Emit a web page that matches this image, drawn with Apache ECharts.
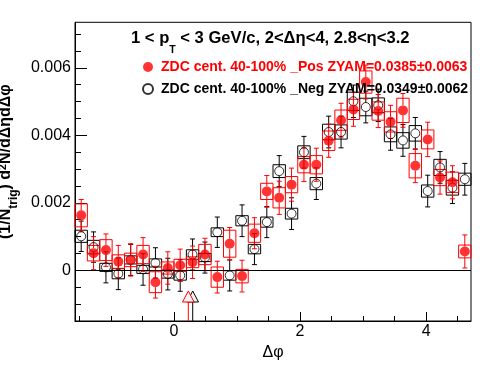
<!DOCTYPE html>
<html><head><meta charset="utf-8">
<script src="https://cdn.jsdelivr.net/npm/echarts@6/dist/echarts.min.js"></script>
<style>html,body{margin:0;padding:0;background:#fff}#c{width:496px;height:374px}</style>
</head><body><div id="c"></div><script>
// Δφ bin centres (32 bins over [-π/2, 3π/2])
const binCenters = [-1.4726,-1.2763,-1.0799,-0.8836,-0.6872,-0.4909,-0.2945,-0.0982,
  0.0982,0.2945,0.4909,0.6872,0.8836,1.0799,1.2763,1.4726,
  1.6690,1.8653,2.0617,2.2580,2.4544,2.6507,2.8471,3.0434,
  3.2398,3.4361,3.6325,3.8288,4.0252,4.2215,4.4179,4.6142];
const binWidth = 0.19635;

// _Pos (red, filled)
const posValues = [0.00163,0.00051,0.00060,0.00026,0.00031,0.00047,-0.00035,0.00007,
  0.00015,0.00024,0.00047,-0.00020,0.00079,-0.00017,0.00110,0.00234,
  0.00215,0.00254,0.00313,0.00313,0.00384,0.00445,0.00477,0.00558,
  0.00472,0.00440,0.00474,0.00310,0.00388,0.00275,0.00261,0.00056];
const posStat = [0.00047,0.00049,0.00048,0.00048,0.00048,0.00050,0.00047,0.00048,
  0.00048,0.00048,0.00048,0.00047,0.00048,0.00047,0.00046,0.00047,
  0.00049,0.00049,0.00050,0.00049,0.00049,0.00050,0.00050,0.00050,
  0.00049,0.00049,0.00050,0.00050,0.00051,0.00049,0.00049,0.00049];
const posSys = [0.00034,0.00023,0.00031,0.00020,0.00020,0.00027,0.00031,0.00018,
  0.00018,0.00016,0.00030,0.00030,0.00040,0.00020,0.00027,0.00024,
  0.00030,0.00024,0.00024,0.00027,0.00029,0.00030,0.00030,0.00033,
  0.00027,0.00030,0.00036,0.00036,0.00028,0.00024,0.00030,0.00019];

// _Neg (black, open)
const negValues = [0.00101,0.00069,0.00009,-0.00010,0.00031,0.00003,0.00022,-0.00011,
  -0.00015,0.00047,0.00038,0.00113,-0.00015,0.00147,0.00063,0.00143,
  0.00294,0.00168,0.00350,0.00257,0.00410,0.00410,0.00501,0.00484,
  0.00489,0.00403,0.00385,0.00406,0.00235,0.00305,0.00245,0.00270];
const negStat = [0.00045,0.00045,0.00046,0.00047,0.00046,0.00047,0.00045,0.00047,
  0.00047,0.00046,0.00046,0.00045,0.00046,0.00047,0.00046,0.00046,
  0.00046,0.00047,0.00047,0.00047,0.00047,0.00047,0.00048,0.00047,
  0.00048,0.00047,0.00047,0.00047,0.00047,0.00047,0.00047,0.00047];
const negSys = [0.00018,0.00020,0.00012,0.00015,0.00012,0.00012,0.00012,0.00012,
  0.00014,0.00014,0.00012,0.00013,0.00014,0.00015,0.00014,0.00015,
  0.00019,0.00016,0.00019,0.00018,0.00023,0.00021,0.00027,0.00026,
  0.00022,0.00022,0.00023,0.00023,0.00018,0.00024,0.00022,0.00018];

// ZYAM minimum positions (neg, pos)
const zyamX = [0.297, 0.227];
const zyamColors = ['#000000', '#ff0000'];

const xLabelTicks = [0, 2, 4];
const xMinorTicks = [-1.5,-1,-0.5,0,0.5,1,1.5,2,2.5,3,3.5,4,4.5];
const yLabelTicks = [0, 0.002, 0.004, 0.006];
const yMinorTicks = [-0.0015,-0.001,-0.0005,0,0.0005,0.001,0.0015,0.002,0.0025,0.003,
  0.0035,0.004,0.0045,0.005,0.0055,0.006,0.0065,0.007];

const posName = 'ZDC cent. 40-100% _Pos ZYAM=0.0385±0.0063';
const negName = 'ZDC cent. 40-100% _Neg ZYAM=0.0349±0.0062';

const FONT = "'Liberation Sans', Arial, Helvetica, sans-serif";
const X_MIN = -Math.PI / 2, X_MAX = 3 * Math.PI / 2, Y_MIN = -0.0015, Y_MAX = 0.00735;

function pts(vals, stat, sys) { return binCenters.map((x, i) => [x, vals[i], stat[i], sys[i]]); }

function boxRender(color) {
  return function (params, api) {
    const x = api.value(0), y = api.value(1), s = api.value(3);
    const p1 = api.coord([x - binWidth / 2, y + s]), p2 = api.coord([x + binWidth / 2, y - s]);
    return { type: 'rect', shape: { x: p1[0], y: p1[1], width: p2[0] - p1[0], height: p2[1] - p1[1] },
      style: { fill: 'none', stroke: color, lineWidth: 1 } };
  };
}
function errRender(color, gap) {
  return function (params, api) {
    const x = api.value(0), y = api.value(1), e = api.value(2);
    const c = api.coord([x, y]), t = api.coord([x, y + e]), b = api.coord([x, y - e]);
    const st = { stroke: color, lineWidth: 1 };
    const ch = [];
    if (c[1] - gap > t[1]) ch.push({ type: 'line', shape: { x1: c[0], y1: t[1], x2: c[0], y2: c[1] - gap }, style: st });
    if (c[1] + gap < b[1]) ch.push({ type: 'line', shape: { x1: c[0], y1: c[1] + gap, x2: c[0], y2: b[1] }, style: st });
    ch.push({ type: 'line', shape: { x1: c[0] - 2.5, y1: t[1], x2: c[0] + 2.5, y2: t[1] }, style: st });
    ch.push({ type: 'line', shape: { x1: c[0] - 2.5, y1: b[1], x2: c[0] + 2.5, y2: b[1] }, style: st });
    return { type: 'group', children: ch };
  };
}
function arrowRender(params, api) {
  const x = api.value(0);
  const color = zyamColors[params.dataIndex];
  const b = api.coord([x, Y_MIN]);
  const tipY = b[1] - 30, baseY = b[1] - 19;
  return { type: 'group', children: [
    { type: 'line', shape: { x1: b[0], y1: baseY, x2: b[0], y2: b[1] }, style: { stroke: color, lineWidth: 1 } },
    { type: 'polygon', shape: { points: [[b[0], tipY], [b[0] - 5.8, baseY], [b[0] + 5.8, baseY]] },
      style: { fill: '#f4f4f4', stroke: color, lineWidth: 1 } }
  ] };
}

const chart = echarts.init(document.getElementById('c'), null, { renderer: 'canvas' });
const axisCommon = { splitLine: { show: false } };
chart.setOption({
  animation: false,
  backgroundColor: '#ffffff',
  title: {
    text: '{a|1 < p}{s|T}{a| < 3 GeV/c, 2<Δη<4, 2.8<η<3.2}',
    left: 131, top: 30, padding: 0,
    textStyle: { fontFamily: FONT, fontWeight: 'bold', fontSize: 16.6, color: '#000',
      rich: {
        a: { fontFamily: FONT, fontWeight: 'bold', fontSize: 16.6, lineHeight: 17, verticalAlign: 'top', color: '#000' },
        s: { fontFamily: FONT, fontWeight: 'bold', fontSize: 10.5, lineHeight: 10, padding: [15, 0, 0, 0], verticalAlign: 'top', color: '#000' }
      } }
  },
  legend: {
    data: [{ name: posName, textStyle: { color: '#ff0000' } }, { name: negName, textStyle: { color: '#000000' } }],
    orient: 'vertical', left: 142, top: 60, padding: 0, itemWidth: 10, itemHeight: 10, itemGap: 8,
    selectedMode: false,
    textStyle: { fontFamily: FONT, fontSize: 14, fontWeight: 'bold', lineHeight: 14, padding: [0, 0, 0, 3] }
  },
  grid: { left: 75, right: 25, top: 22.3, bottom: 53, show: true, borderColor: '#000', borderWidth: 1,
    containLabel: false, outerBoundsMode: 'none' },
  xAxis: [
    Object.assign({}, axisCommon, {
      type: 'value', min: X_MIN, max: X_MAX, position: 'bottom',
      axisLine: { show: true, onZero: false, lineStyle: { color: '#000', width: 1 } },
      axisTick: { show: true, inside: true, length: 9, customValues: xLabelTicks, lineStyle: { color: '#000' } },
      axisLabel: { customValues: xLabelTicks, margin: 3, fontSize: 16, color: '#000', fontFamily: FONT },
      name: 'Δφ', nameLocation: 'middle', nameGap: 21,
      nameTextStyle: { fontSize: 16, color: '#000', fontFamily: FONT }
    }),
    Object.assign({}, axisCommon, {
      type: 'value', min: X_MIN, max: X_MAX, position: 'bottom',
      axisLine: { show: false, onZero: false },
      axisTick: { show: true, inside: true, length: 5, customValues: xMinorTicks, lineStyle: { color: '#000' } },
      axisLabel: { show: false }
    })
  ],
  yAxis: [
    Object.assign({}, axisCommon, {
      type: 'value', min: Y_MIN, max: Y_MAX, position: 'left',
      axisLine: { show: true, onZero: false, lineStyle: { color: '#000', width: 1 } },
      axisTick: { show: true, inside: true, length: 12, customValues: yLabelTicks, lineStyle: { color: '#000' } },
      axisLabel: { customValues: yLabelTicks, margin: 4, fontSize: 16, color: '#000', fontFamily: FONT,
        formatter: v => (Math.abs(v) < 1e-12 ? '0' : v.toFixed(3)) },
      name: '{a|(1/N}{s|trig}{a|) d}{p|2}{a|N/dΔηdΔφ}', nameLocation: 'middle', nameRotate: 90, nameGap: 48,
      nameTextStyle: { fontFamily: FONT, fontWeight: 'bold', fontSize: 16, color: '#000', padding: [0, 0, 0, 20],
        rich: {
          a: { fontFamily: FONT, fontWeight: 'bold', fontSize: 16, lineHeight: 16, verticalAlign: 'top', color: '#000' },
          s: { fontFamily: FONT, fontWeight: 'bold', fontSize: 12, lineHeight: 12, padding: [10, 0, 0, 0], verticalAlign: 'top', color: '#000' },
          p: { fontFamily: FONT, fontWeight: 'bold', fontSize: 10.5, lineHeight: 10, verticalAlign: 'top', color: '#000' }
        } }
    }),
    Object.assign({}, axisCommon, {
      type: 'value', min: Y_MIN, max: Y_MAX, position: 'left',
      axisLine: { show: false, onZero: false },
      axisTick: { show: true, inside: true, length: 6, customValues: yMinorTicks, lineStyle: { color: '#000' } },
      axisLabel: { show: false }
    })
  ],
  series: [
    { type: 'custom', name: 'negSys', data: pts(negValues, negStat, negSys), renderItem: boxRender('#000000'),
      encode: { x: 0, y: 1 }, silent: true,
      markLine: { silent: true, symbol: 'none', label: { show: false }, lineStyle: { color: '#000', width: 1, type: 'solid' },
        data: [{ yAxis: 0 }] } },
    { type: 'custom', name: 'negStat', data: pts(negValues, negStat, negSys), renderItem: errRender('#000000', 4.5),
      encode: { x: 0, y: 1 }, silent: true },
    { type: 'scatter', name: negName, data: binCenters.map((x, i) => [x, negValues[i]]), symbol: 'circle', symbolSize: 9,
      itemStyle: { color: 'rgba(255,255,255,0)', borderColor: '#000', borderWidth: 1 } },
    { type: 'custom', name: 'zyam', data: zyamX.map(x => [x]), renderItem: arrowRender, encode: { x: 0 }, silent: true, clip: false },
    { type: 'custom', name: 'posSys', data: pts(posValues, posStat, posSys), renderItem: boxRender('#ff0000'),
      encode: { x: 0, y: 1 }, silent: true },
    { type: 'custom', name: 'posStat', data: pts(posValues, posStat, posSys), renderItem: errRender('#ff0000', 5),
      encode: { x: 0, y: 1 }, silent: true },
    { type: 'scatter', name: posName, data: binCenters.map((x, i) => [x, posValues[i]]), symbol: 'circle', symbolSize: 10,
      itemStyle: { color: '#ff0000' } }
  ]
});
</script></body></html>
